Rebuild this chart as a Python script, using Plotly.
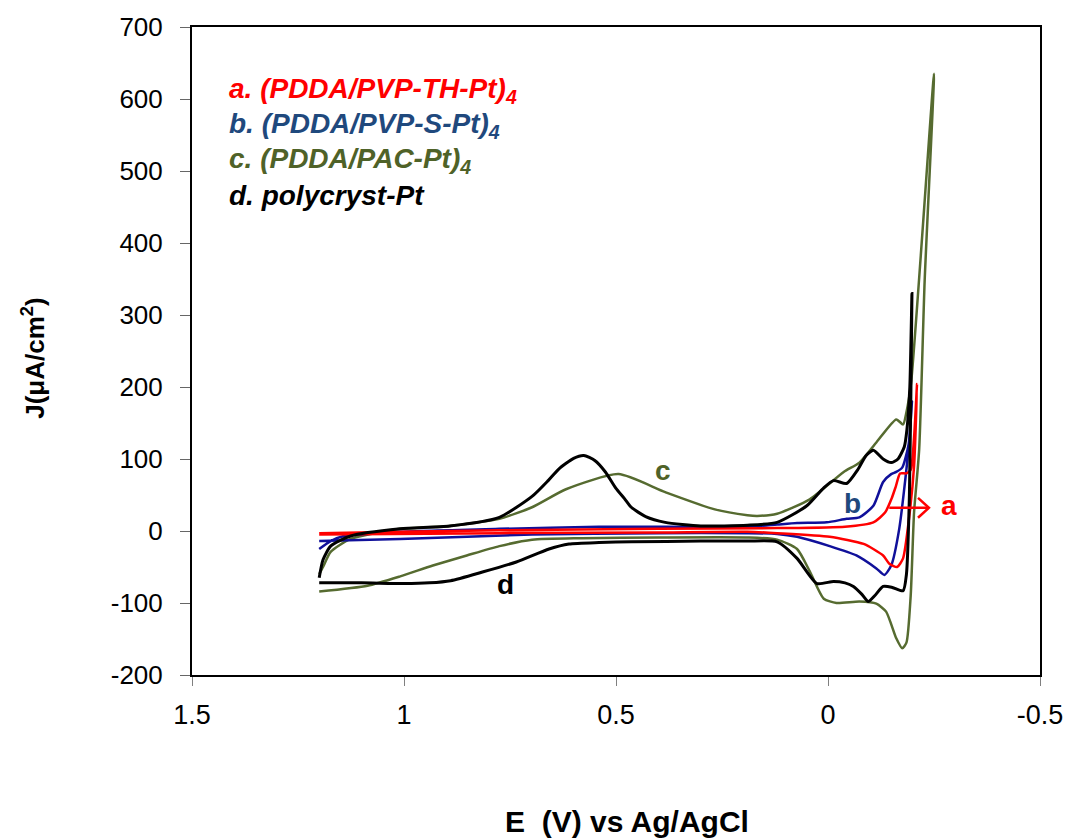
import plotly.graph_objects as go

# ---- data (E in V vs Ag/AgCl, J in uA/cm2) ----
# Curve a: (PDDA/PVP-TH-Pt)4
E_a = [1.20, 0.775, 0.40, 0.19, 0.12, -0.004, -0.084, -0.130, -0.144, -0.163, -0.177, -0.191, -0.203, -0.210,
       -0.203, -0.195, -0.185, -0.170, -0.160, -0.150, -0.135, -0.107, -0.04, 0.12, 0.40, 0.775, 1.009, 1.20]
J_a = [-5, -3, -2, -1, -3, -8, -18, -34, -45, -50, -38, 17, 90, 204,
       130, 85, 80, 80, 62, 45, 26, 12, 6, 4, 3, 1, -1, -3]

# Curve b: (PDDA/PVP-S-Pt)4
E_b = [1.20, 1.009, 0.698, 0.40, 0.19, 0.12, 0.073, -0.004, -0.067, -0.114, -0.133, -0.149, -0.168, -0.189, -0.198,
       -0.190, -0.175, -0.161, -0.149, -0.130, -0.107, -0.074, -0.044, 0.003, 0.073, 0.12, 0.19, 0.54, 0.775,
       1.009, 1.126, 1.142, 1.173, 1.20]
J_b = [-14, -11, -5, -3, -3, -4, -8, -21, -34, -52, -61, -48, 3, 109, 180,
       120, 88, 82, 79, 68, 35, 19, 17, 12, 11, 9, 6, 6, 3,
       -1, -6, -7, -14, -25]

# Curve c: (PDDA/PAC-Pt)4
E_c = [1.20, 1.086, 1.009, 0.932, 0.852, 0.775, 0.698, 0.58, 0.40, 0.19, 0.12, 0.073, 0.043, 0.010, -0.020,
       -0.074, -0.114, -0.137, -0.161, -0.175, -0.185, -0.195, -0.203, -0.215, -0.228, -0.250,
       -0.196, -0.185, -0.177, -0.161, -0.114, -0.074, -0.037, 0.043, 0.12, 0.167, 0.19, 0.267, 0.384,
       0.494, 0.618, 0.698, 0.775, 0.892, 1.009, 1.126, 1.173, 1.191, 1.20]
J_c = [-84, -76, -63, -48, -34, -21, -12, -10, -9, -9, -12, -25, -56, -94, -100,
       -98, -101, -112, -149, -163, -155, -90, 26, 113, 348, 635,
       206, 165, 148, 155, 123, 95, 82, 44, 24, 21, 22, 30, 54,
       79, 58, 33, 17, 7, 3, -11, -29, -50, -60]

# Curve d: polycryst-Pt
E_d = [1.20, 1.10, 1.00, 0.94, 0.89, 0.815, 0.735, 0.658, 0.611, 0.54, 0.464, 0.30, 0.19, 0.12, 0.073, 0.026,
       -0.013, -0.040, -0.060, -0.080, -0.095, -0.110, -0.130, -0.150, -0.177, -0.185, -0.192, -0.198,
       -0.193, -0.186, -0.180, -0.165, -0.149, -0.130, -0.107, -0.090, -0.070, -0.044, -0.013, 0.010, 0.050,
       0.12, 0.19, 0.30, 0.384, 0.43, 0.464, 0.48, 0.501, 0.525, 0.55, 0.576, 0.60, 0.635, 0.66, 0.698,
       0.775, 0.892, 1.009, 1.126, 1.173, 1.191, 1.20]
J_d = [-72, -72, -73, -72, -69, -57, -43, -25, -18, -16, -15, -14, -14, -15, -38, -73,
       -70, -72, -77, -88, -98, -90, -77, -78, -83, -60, 50, 330,
       200, 140, 117, 100, 95, 100, 112, 105, 85, 66, 70, 60, 35,
       12, 8, 7, 12, 20, 33, 45, 60, 82, 98, 105, 101, 86, 70, 48,
       19, 7, 3, -7, -21, -40, -65]

x_ticks = [1.5, 1, 0.5, 0, -0.5]
x_ticktext = ["1.5", "1", "0.5", "0", "-0.5"]
y_ticks = [-200, -100, 0, 100, 200, 300, 400, 500, 600, 700]
y_ticktext = ["-200", "-100", "0", "100", "200", "300", "400", "500", "600", "700"]

legend_labels = ["a. (PDDA/PVP-TH-Pt)<sub>4</sub>", "b. (PDDA/PVP-S-Pt)<sub>4</sub>",
                 "c. (PDDA/PAC-Pt)<sub>4</sub>", "d. polycryst-Pt"]

col_a, col_b, col_c, col_d = "#FF0000", "#10109A", "#566B30", "#000000"
txt_b, txt_c = "#1F497D", "#4F6228"

PL, PR, PT, PB = 192, 1047, 24, 675
def px2paper(px, py):
    return (px - PL) / (PR - PL), (PB - py) / (PB - PT)

fig = go.Figure()
for E, J, c, w in [(E_c, J_c, col_c, 2.5), (E_b, J_b, col_b, 2.5), (E_a, J_a, col_a, 2.5), (E_d, J_d, col_d, 3)]:
    fig.add_trace(go.Scatter(x=E, y=J, mode="lines", line=dict(color=c, width=w, shape="spline", smoothing=0.6),
                             showlegend=False, hoverinfo="skip"))

annots = []
leg_cols = [col_a, txt_b, txt_c, col_d]
leg_y = [88, 123, 158, 193]
for lab, c, py in zip(legend_labels, leg_cols, leg_y):
    xp, yp = px2paper(227, py)
    annots.append(dict(x=xp, y=yp, xref="paper", yref="paper", text="<b><i>" + lab + "</i></b>",
                       showarrow=False, xanchor="left", yanchor="middle",
                       font=dict(family="Liberation Sans, Arial", size=28, color=c)))

for lab, c, (px, py) in [("a", col_a, (955, 505)), ("b", txt_b, (858, 503)), ("c", txt_c, (667, 470)), ("d", col_d, (508, 584))]:
    xp, yp = px2paper(px, py)
    annots.append(dict(x=xp, y=yp, xref="paper", yref="paper", text="<b>" + lab + "</b>", showarrow=False,
                       xanchor="center", yanchor="middle",
                       font=dict(family="Liberation Sans, Arial", size=28, color=c)))

# axis titles
xp, yp = px2paper(631, 822)
annots.append(dict(x=xp, y=yp, xref="paper", yref="paper", xanchor="center", yanchor="middle",
                   text="<b>E  (V) vs Ag/AgCl</b>", showarrow=False,
                   font=dict(family="Liberation Sans Narrow, Liberation Sans, Arial", size=30, color="black")))
xp, yp = px2paper(32, 357)
annots.append(dict(x=xp, y=yp, xref="paper", yref="paper", xanchor="center", yanchor="middle",
                   text="<b>J(μA/cm<sup>2</sup>)</b>", showarrow=False, textangle=-90,
                   font=dict(family="Liberation Sans, Arial", size=26, color="black")))

# red arrow pointing to curve label "a"
ax0, ay0 = px2paper(895, 507)
ax1, ay1 = px2paper(935, 507)
hx, hy1 = px2paper(924, 497)
_, hy2 = px2paper(924, 517)
shapes = [
    dict(type="line", xref="paper", yref="paper", x0=ax0, y0=ay0, x1=ax1, y1=ay1, line=dict(color=col_a, width=2.5)),
    dict(type="path", xref="paper", yref="paper",
         path=f"M {hx} {hy1} L {ax1} {ay1} L {hx} {hy2}", line=dict(color=col_a, width=2.5)),
]

fig.update_layout(
    width=1075, height=839,
    margin=dict(l=PL, r=1075 - PR, t=PT, b=839 - PB),
    paper_bgcolor="white", plot_bgcolor="white",
    annotations=annots, shapes=shapes,
    xaxis=dict(range=[1.5, -0.5], tickvals=x_ticks, ticktext=x_ticktext, ticks="outside", ticklen=9,
               tickcolor="#808080", showline=True, linecolor="black", linewidth=2, mirror=True,
               showgrid=False, zeroline=False, ticklabelstandoff=6,
               tickfont=dict(family="Liberation Sans Narrow, Liberation Sans, Arial", size=27, color="black")),
    yaxis=dict(range=[-200, 700], tickvals=y_ticks, ticktext=y_ticktext, ticks="outside", ticklen=10,
               tickcolor="#666666", showline=True, linecolor="black", linewidth=2, mirror=True,
               showgrid=False, zeroline=False, ticklabelstandoff=12,
               tickfont=dict(family="Liberation Sans, Arial", size=26, color="black")),
)
fig.write_html("out.html")
